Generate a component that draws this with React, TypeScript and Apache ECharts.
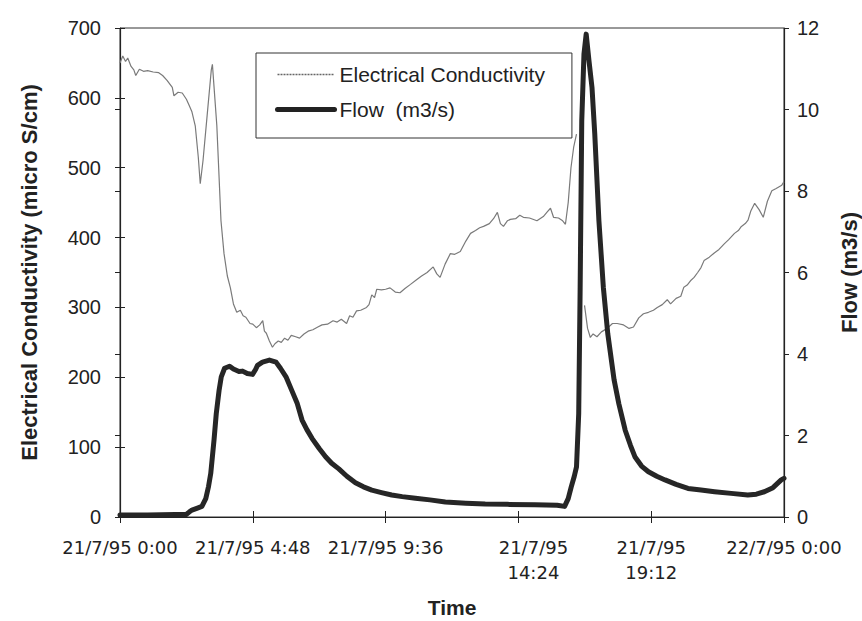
import React, { useEffect, useRef } from "react";
import * as echarts from "echarts";

// x axis: hours since 21/7/95 0:00
const xTickLabels = [
  "21/7/95 0:00",
  "21/7/95 4:48",
  "21/7/95 9:36",
  "21/7/95\n14:24",
  "21/7/95\n19:12",
  "22/7/95 0:00",
];

const ecHours = [
  0.0, 0.1, 0.2, 0.28, 0.4, 0.5, 0.57, 0.7, 0.85, 1.0, 1.2, 1.4, 1.54, 1.7, 1.89, 1.95, 2.1, 2.25, 2.4, 2.49,
  2.6, 2.72, 2.83, 2.9, 3.0, 3.15, 3.3, 3.34, 3.4, 3.5, 3.65, 3.76, 3.88, 3.99, 4.1, 4.22, 4.35, 4.45, 4.55, 4.7,
  4.8, 4.93, 5.05, 5.16, 5.22, 5.29, 5.4, 5.51, 5.6, 5.72, 5.83, 5.95, 6.07, 6.19, 6.35, 6.49, 6.65, 6.8, 6.97, 7.15,
  7.3, 7.5, 7.7, 7.85, 8.0, 8.19, 8.3, 8.42, 8.55, 8.7, 8.91, 9.0, 9.1, 9.2, 9.28, 9.45, 9.6, 9.76, 9.95, 10.12,
  10.3, 10.5, 10.73, 10.9, 11.1, 11.32, 11.45, 11.57, 11.75, 11.94, 12.1, 12.3, 12.5, 12.67, 12.85, 13.0, 13.14, 13.35, 13.5, 13.64,
  13.75, 13.86, 14.0, 14.11, 14.3, 14.45, 14.58, 14.8, 15.07, 15.3, 15.45, 15.56, 15.67, 15.85, 16.0, 16.1, 16.2, 16.3, 16.4, 16.5,
  16.65, 16.79, 16.9, 17.0, 17.1, 17.24, 17.4, 17.61, 17.8, 17.97, 18.2, 18.4, 18.56, 18.75, 18.92, 19.1, 19.28, 19.42, 19.6, 19.78,
  19.9, 20.1, 20.27, 20.38, 20.5, 20.64, 20.75, 20.88, 21.0, 21.11, 21.3, 21.48, 21.65, 21.84, 22.0, 22.21, 22.35, 22.46, 22.6, 22.7,
  22.8, 22.94, 23.1, 23.25, 23.4, 23.56, 23.7, 23.92, 24.0,
];
const ecValues: (number | null)[] = [
  650, 660, 652, 657, 645, 640, 632, 641, 638, 639, 637, 636, 632, 625, 615, 603, 608, 607, 598, 590,
  580, 560, 515, 477, 510, 575, 640, 648, 615, 560, 424, 377, 345, 328, 305, 293, 296, 288, 286, 277,
  276, 271, 275, 281, 266, 263, 252, 243, 248, 252, 250, 256, 253, 260, 258, 256, 262, 266, 268, 272,
  275, 276, 281, 279, 283, 277, 288, 286, 295, 296, 300, 304, 318, 314, 326, 325, 326, 328, 322, 321,
  327, 333, 340, 345, 350, 358, 348, 343, 362, 377, 376, 380, 395, 406, 410, 414, 416, 420, 427, 436,
  420, 416, 424, 426, 427, 432, 429, 428, 424, 430, 437, 442, 429, 428, 424, 419, 450, 500, 530, 548,
  null, 303, 270, 257, 262, 258, 265, 270, 277, 277, 275, 270, 272, 285, 291, 293, 296, 300, 304, 311,
  305, 313, 316, 329, 332, 339, 343, 350, 357, 367, 372, 378, 383, 391, 397, 406, 410, 416, 420, 425,
  438, 449, 440, 429, 452, 467, 470, 475, 480,
];

const flowHours = [
  0, 1.0, 2.0, 2.39, 2.5, 2.6, 2.8, 2.96, 3.1, 3.2, 3.28, 3.4, 3.48, 3.58, 3.66, 3.78, 3.96, 4.1, 4.2, 4.3,
  4.43, 4.6, 4.79, 4.9, 4.97, 5.15, 5.4, 5.64, 5.8, 6.0, 6.2, 6.4, 6.58, 6.75, 6.94, 7.2, 7.43, 7.65, 7.91, 8.2,
  8.51, 8.8, 9.1, 9.45, 9.82, 10.2, 10.68, 11.2, 11.76, 12.5, 13.2, 14.0, 15.0, 15.8, 16.07, 16.2, 16.31, 16.42, 16.5, 16.58,
  16.63, 16.69, 16.77, 16.85, 16.95, 17.06, 17.16, 17.31, 17.47, 17.63, 17.86, 18.03, 18.26, 18.45, 18.61, 18.85, 19.1, 19.4, 19.7, 20.1,
  20.53, 21.0, 21.49, 22.09, 22.69, 23.0, 23.29, 23.6, 23.9, 24.0,
];
const flowValues = [
  0.05, 0.05, 0.06, 0.06, 0.12, 0.17, 0.22, 0.26, 0.45, 0.75, 1.07, 1.9, 2.54, 3.1, 3.44, 3.65, 3.7, 3.63, 3.6, 3.57,
  3.58, 3.52, 3.5, 3.62, 3.72, 3.8, 3.85, 3.8, 3.65, 3.44, 3.12, 2.8, 2.38, 2.15, 1.93, 1.68, 1.48, 1.32, 1.18, 1.0,
  0.84, 0.74, 0.66, 0.6, 0.54, 0.5, 0.46, 0.42, 0.37, 0.34, 0.32, 0.31, 0.3, 0.29, 0.26, 0.45, 0.74, 1.0, 1.23, 2.54,
  5.5, 9.72, 11.36, 11.85, 11.2, 10.54, 9.4, 7.27, 5.64, 4.5, 3.36, 2.78, 2.13, 1.76, 1.48, 1.25, 1.11, 1.0, 0.91, 0.8,
  0.7, 0.66, 0.62, 0.58, 0.54, 0.56, 0.62, 0.72, 0.91, 0.95,
];

const EC_NAME = "Electrical Conductivity";
const FLOW_NAME = "Flow  (m3/s)";

export default function App() {
  const ref = useRef<HTMLDivElement>(null);

  useEffect(() => {
    if (!ref.current) return;
    const chart = echarts.init(ref.current, null, { renderer: "svg" });

    const ecData = ecHours.map((h, i) => [h, ecValues[i] === null ? "-" : ecValues[i]]);
    const flowData = flowHours.map((h, i) => [h, flowValues[i]]);

    const axisColor = "#222";
    const labelFont = "Liberation Sans, Arial, sans-serif";
    const xFont = "DejaVu Sans, sans-serif";

    const xBase = {
      type: "value" as const,
      min: 0,
      max: 24,
      interval: 4.8,
      position: "bottom" as const,
      splitLine: { show: false },
    };

    const option: any = {
      animation: false,
      backgroundColor: "#fff",
      grid: {
        left: 120,
        right: 78,
        top: 28,
        bottom: 104,
        show: true,
        borderColor: "#333",
        borderWidth: 1,
        containLabel: false,
        outerBoundsMode: "none",
      },
      legend: {
        orient: "vertical",
        left: 256,
        top: 53,
        padding: [11, 27, 18, 19],
        itemGap: 14,
        itemWidth: 57,
        itemHeight: 14,
        borderColor: "#333",
        borderWidth: 1,
        backgroundColor: "#fff",
        textStyle: { fontFamily: labelFont, fontSize: 21, color: "#222", lineHeight: 21 },
        data: [
          {
            name: EC_NAME,
            itemStyle: { opacity: 0 },
            lineStyle: { color: "#666", width: 1.5, type: [2, 1] },
          },
          {
            name: FLOW_NAME,
            itemStyle: { opacity: 0 },
            lineStyle: { color: "#222", width: 5, cap: "round" },
          },
        ],
      },
      xAxis: [
        {
          ...xBase,
          name: "Time",
          nameLocation: "middle",
          nameGap: 80,
          nameTextStyle: { fontFamily: labelFont, fontSize: 21, fontWeight: "bold", color: "#222" },
          axisLine: { show: true, onZero: false, lineStyle: { color: axisColor, width: 1.2 } },
          axisTick: { show: true, inside: false, length: 6, lineStyle: { color: axisColor } },
          axisLabel: {
            show: true,
            showMinLabel: true,
            showMaxLabel: true,
            margin: 18,
            fontFamily: xFont,
            fontSize: 18,
            lineHeight: 25,
            color: "#222",
            formatter: (v: number) => {
              const idx = Math.round(v / 4.8);
              const txt = xTickLabels[idx] ?? "";
              if (idx === 3) {
                return txt
                  .split("\n")
                  .map((s) => "{o|" + s + "}")
                  .join("\n");
              }
              return txt;
            },
            rich: {
              o: {
                fontFamily: xFont,
                fontSize: 18,
                lineHeight: 25,
                color: "#222",
                padding: [0, 0, 0, 30],
              },
            },
          },
        },
        {
          ...xBase,
          axisLine: { show: false },
          axisTick: { show: true, inside: true, length: 6, lineStyle: { color: axisColor } },
          axisLabel: { show: false },
        },
      ],
      yAxis: [
        {
          type: "value",
          position: "left",
          min: 0,
          max: 700,
          interval: 100,
          name: "Electrical Conductivity (micro S/cm)",
          nameLocation: "middle",
          nameRotate: 90,
          nameGap: 80,
          nameTextStyle: { fontFamily: labelFont, fontSize: 22, fontWeight: "bold", color: "#222" },
          splitLine: { show: false },
          axisLine: { show: true, onZero: false, lineStyle: { color: axisColor, width: 1.2 } },
          axisTick: { show: true, inside: false, length: 5, lineStyle: { color: axisColor } },
          axisLabel: { margin: 19, fontFamily: labelFont, fontSize: 20, color: "#222" },
        },
        {
          type: "value",
          position: "right",
          min: 0,
          max: 12,
          interval: 2,
          name: "Flow (m3/s)",
          nameLocation: "middle",
          nameRotate: 90,
          nameGap: 54,
          nameTextStyle: { fontFamily: labelFont, fontSize: 22, fontWeight: "bold", color: "#222" },
          splitLine: { show: false },
          axisLine: { show: true, onZero: false, lineStyle: { color: axisColor, width: 1.2 } },
          axisTick: { show: true, inside: false, length: 5, lineStyle: { color: axisColor } },
          axisLabel: { margin: 13, fontFamily: labelFont, fontSize: 20, color: "#222" },
        },
        {
          type: "value",
          position: "left",
          min: 0,
          max: 700,
          interval: 100,
          splitLine: { show: false },
          axisLine: { show: false },
          axisTick: { show: true, inside: true, length: 5, lineStyle: { color: axisColor } },
          axisLabel: { show: false },
        },
        {
          type: "value",
          position: "right",
          min: 0,
          max: 12,
          interval: 2,
          splitLine: { show: false },
          axisLine: { show: false },
          axisTick: { show: true, inside: true, length: 5, lineStyle: { color: axisColor } },
          axisLabel: { show: false },
        },
      ],
      series: [
        {
          name: EC_NAME,
          type: "line",
          xAxisIndex: 0,
          yAxisIndex: 0,
          data: ecData,
          symbol: "none",
          showSymbol: false,
          connectNulls: false,
          lineStyle: { color: "#7a7a7a", width: 1.2 },
          itemStyle: { color: "#7a7a7a" },
          z: 2,
        },
        {
          name: FLOW_NAME,
          type: "line",
          xAxisIndex: 0,
          yAxisIndex: 1,
          data: flowData,
          symbol: "none",
          showSymbol: false,
          lineStyle: { color: "#262626", width: 5, join: "round", cap: "round" },
          itemStyle: { color: "#262626" },
          z: 3,
        },
      ],
    };

    chart.setOption(option);
    return () => chart.dispose();
  }, []);

  return (
    <div
      ref={ref}
      style={{ position: "absolute", left: 0, top: 0, width: 862, height: 621, background: "#fff" }}
    />
  );
}
